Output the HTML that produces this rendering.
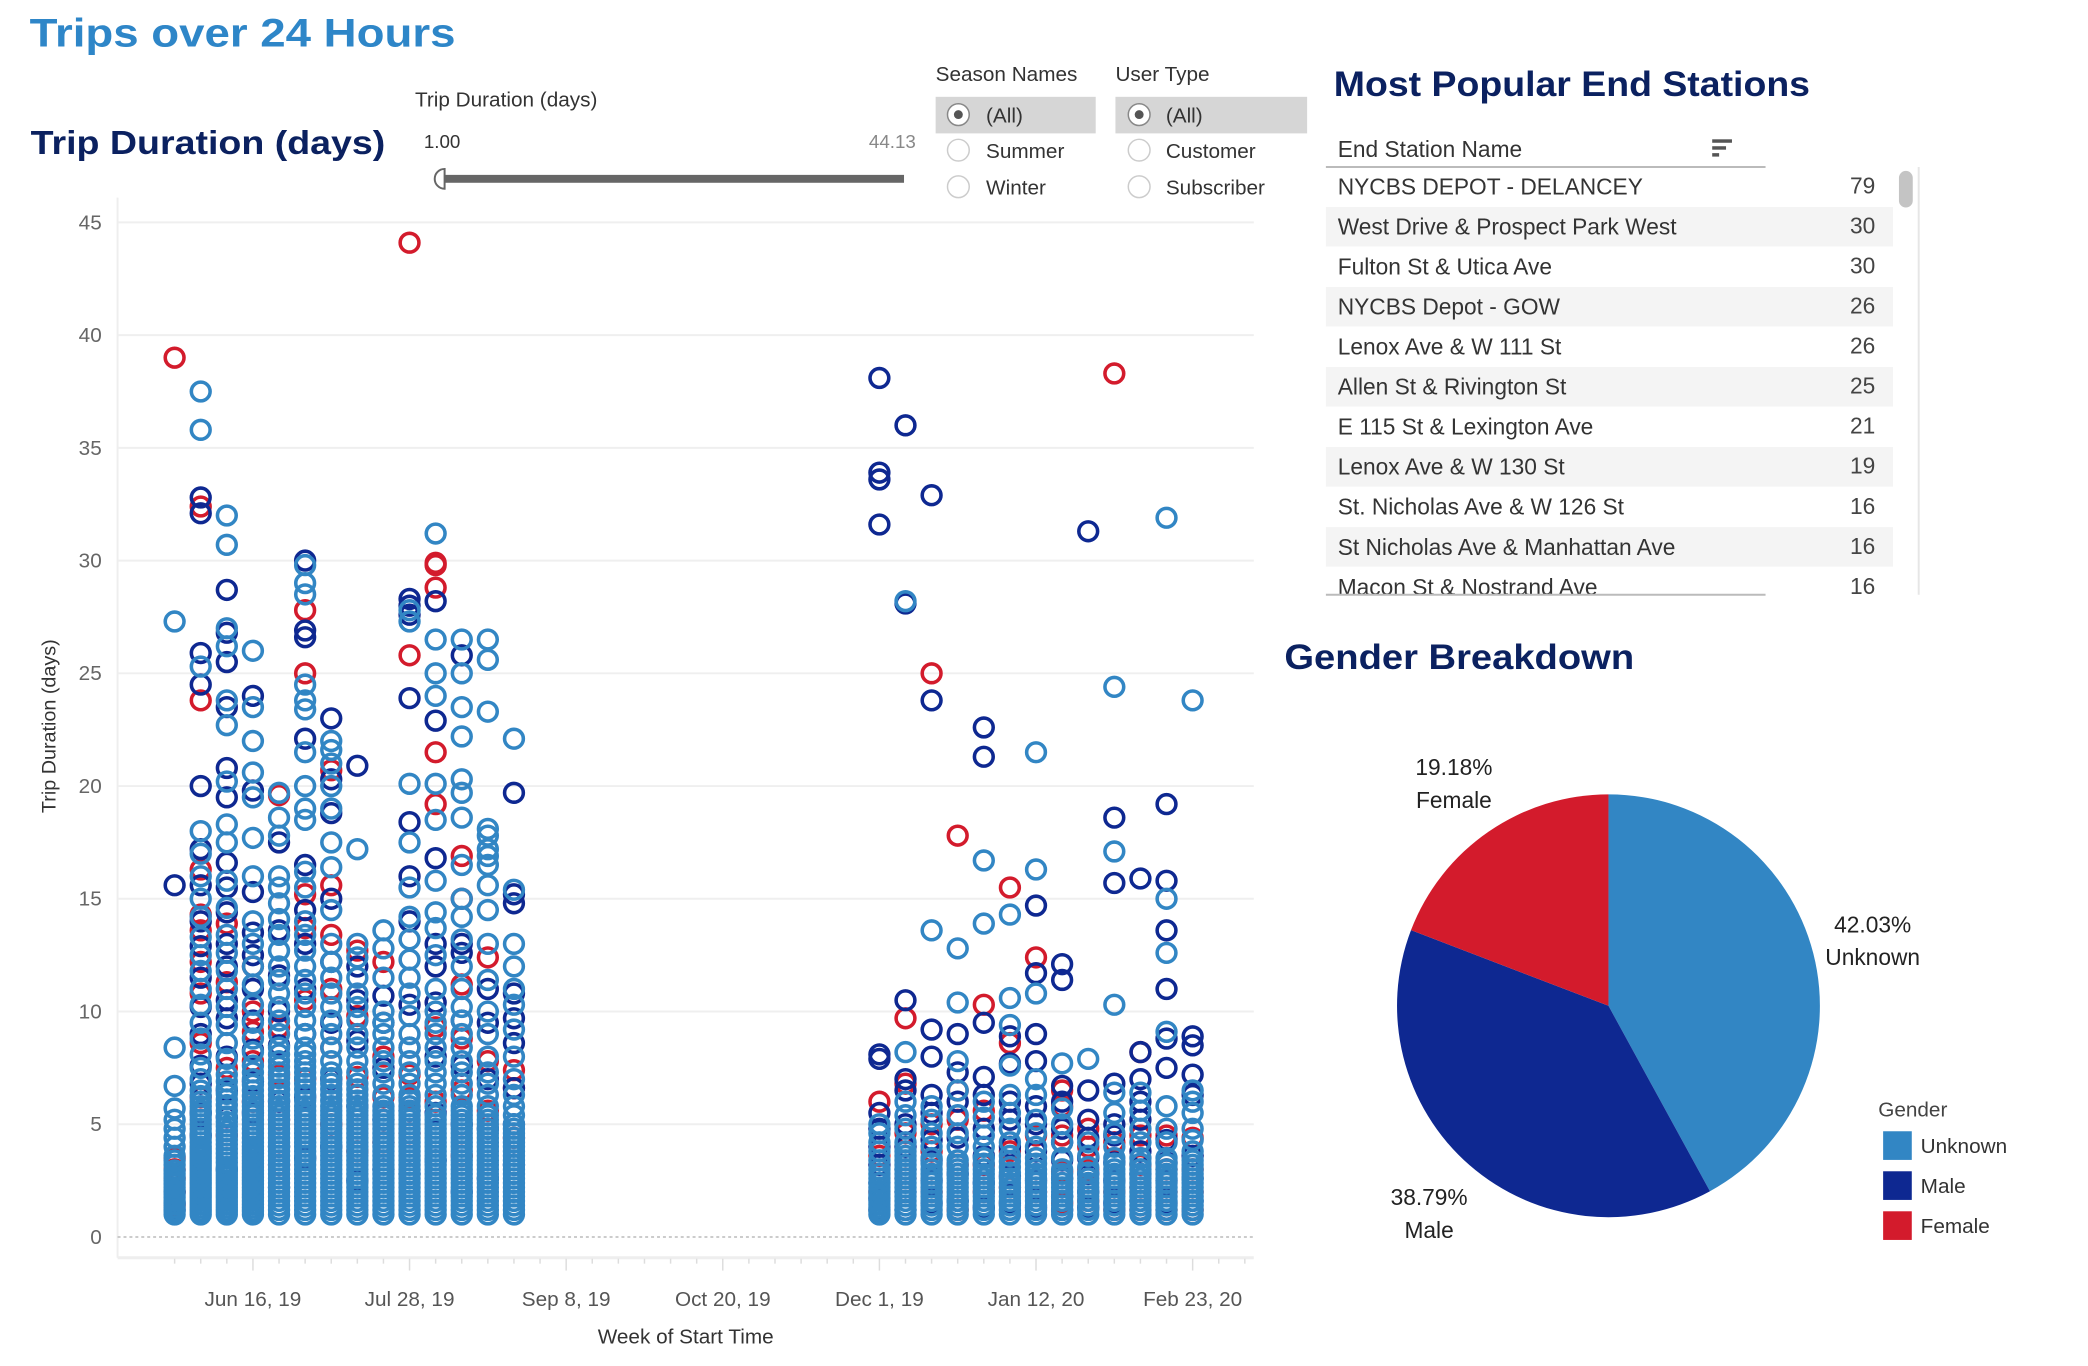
<!DOCTYPE html>
<html><head><meta charset="utf-8"><style>
html,body{margin:0;padding:0;background:#fff;}
svg{display:block;font-family:"Liberation Sans",sans-serif;}
</style></head><body>
<svg id="root" width="2088" height="1366" viewBox="0 0 2088 1366" xmlns="http://www.w3.org/2000/svg">
<g transform="scale(0.988)">
<text x="30" y="47" font-size="40" font-weight="bold" fill="#2e86c8" textLength="431" lengthAdjust="spacingAndGlyphs">Trips over 24 Hours</text>
<text x="31" y="156" font-size="34" font-weight="bold" fill="#0b2160" textLength="359" lengthAdjust="spacingAndGlyphs">Trip Duration (days)</text>

<g>
<text x="420" y="108" font-size="21" fill="#333">Trip Duration (days)</text>
<text x="429" y="150" font-size="19" fill="#333">1.00</text>
<text x="927" y="150" font-size="19" fill="#888" text-anchor="end">44.13</text>
<rect x="448" y="177" width="467" height="8" fill="#666"/>
<path d="M450,171 a10,10 0 0,0 0,20 z" fill="#fff" stroke="#666" stroke-width="2"/>
</g>

<g>
<text x="947" y="82" font-size="21" fill="#333">Season Names</text>
<rect x="947" y="98" width="162" height="37" fill="#d6d6d6"/>
<circle cx="970" cy="116" r="11" fill="#fff" stroke="#888" stroke-width="1.5"/>
<circle cx="970" cy="116" r="4.5" fill="#555"/>
<text x="998" y="124" font-size="21" fill="#333">(All)</text>
<circle cx="970" cy="152" r="11" fill="#fff" stroke="#ccc" stroke-width="1.5"/>
<text x="998" y="160" font-size="21" fill="#333">Summer</text>
<circle cx="970" cy="189" r="11" fill="#fff" stroke="#ccc" stroke-width="1.5"/>
<text x="998" y="197" font-size="21" fill="#333">Winter</text>
</g>
<g>
<text x="1129" y="82" font-size="21" fill="#333">User Type</text>
<rect x="1129" y="98" width="194" height="37" fill="#d6d6d6"/>
<circle cx="1153" cy="116" r="11" fill="#fff" stroke="#888" stroke-width="1.5"/>
<circle cx="1153" cy="116" r="4.5" fill="#555"/>
<text x="1180" y="124" font-size="21" fill="#333">(All)</text>
<circle cx="1153" cy="152" r="11" fill="#fff" stroke="#ccc" stroke-width="1.5"/>
<text x="1180" y="160" font-size="21" fill="#333">Customer</text>
<circle cx="1153" cy="189" r="11" fill="#fff" stroke="#ccc" stroke-width="1.5"/>
<text x="1180" y="197" font-size="21" fill="#333">Subscriber</text>
</g>

<g id="scatter"></g>

<g>
<text x="1350" y="97" font-size="36" font-weight="bold" fill="#0b2160" textLength="482" lengthAdjust="spacingAndGlyphs">Most Popular End Stations</text>
<text x="1354" y="159" font-size="23" fill="#333">End Station Name</text>
<g>
<rect x="1733" y="141" width="20" height="3.5" fill="#555"/>
<rect x="1733" y="148" width="14" height="3.5" fill="#555"/>
<rect x="1733" y="155" width="7" height="3.5" fill="#555"/>
</g>
<line x1="1342" y1="169" x2="1787" y2="169" stroke="#bbb" stroke-width="2"/>
<g id="rows"></g>
<line x1="1342" y1="602" x2="1787" y2="602" stroke="#bbb" stroke-width="2"/>
<line x1="1942" y1="169" x2="1942" y2="602" stroke="#e6e6e6" stroke-width="2"/>
<rect x="1922" y="173" width="14" height="37" rx="7" fill="#c4c4c4"/>
</g>

<g id="pie">
<text x="1300" y="677" font-size="36" font-weight="bold" fill="#0b2160" textLength="354" lengthAdjust="spacingAndGlyphs">Gender Breakdown</text>
</g>
</g>
</svg>
<script>
// ---------- Scatter data ----------
const weekDates = ["2019-05-26","2019-06-02","2019-06-09","2019-06-16","2019-06-23","2019-06-30","2019-07-07","2019-07-14","2019-07-21","2019-07-28","2019-08-04","2019-08-11","2019-08-18","2019-08-25",
"2019-12-01","2019-12-08","2019-12-15","2019-12-22","2019-12-29","2020-01-05","2020-01-12","2020-01-19","2020-01-26","2020-02-02","2020-02-09","2020-02-16","2020-02-23"];
const unknownVals = [
[1.0,1.3,1.6,1.9,2.2,2.5,2.8,3.2,3.6,4.0,4.4,4.8,5.2,5.7,6.7,8.4,27.3],
[1.0,1.3,1.6,1.9,2.2,2.5,2.8,3.1,3.4,3.7,4.0,4.4,4.8,5.2,5.6,6.0,6.5,7.0,7.5,8.1,8.8,9.5,10.3,11.0,11.8,12.5,13.3,14.2,15.0,16.0,17.0,18.0,25.3,35.8,37.5],
[1.0,1.3,1.6,1.9,2.2,2.5,2.8,3.1,3.5,3.9,4.3,4.7,5.1,5.6,6.1,6.6,7.2,7.9,8.6,9.4,10.2,11.0,11.8,12.6,13.4,14.6,15.8,17.5,18.3,20.2,22.7,23.8,26.2,27.0,30.7,32.0],
[1.0,1.3,1.6,1.9,2.2,2.5,2.8,3.1,3.4,3.7,4.0,4.4,4.8,5.2,5.6,6.0,6.5,7.0,7.6,8.2,8.8,9.5,10.3,11.2,12.0,13.0,14.0,16.0,17.7,19.5,20.6,22.0,23.5,26.0],
[1.0,1.4,1.8,2.2,2.6,3.0,3.4,3.8,4.2,4.6,5.0,5.4,5.8,6.3,6.8,7.3,7.8,8.4,9.0,9.6,10.2,10.8,11.4,12.0,12.7,13.4,14.1,14.8,15.5,16.0,17.8,18.6,19.7],
[1.0,1.4,1.8,2.2,2.6,3.0,3.4,3.8,4.2,4.6,5.0,5.4,5.8,6.3,6.8,7.3,7.8,8.4,9.0,9.6,10.2,10.8,11.4,12.0,12.7,13.4,14.0,15.5,16.2,18.5,19.0,20.0,21.5,23.4,23.8,24.5,28.5,29.0,29.8],
[1.0,1.4,1.8,2.2,2.6,3.0,3.4,3.8,4.2,4.6,5.0,5.4,5.8,6.3,6.8,7.3,7.8,8.4,9.0,9.6,10.2,10.8,11.5,12.2,13.0,14.5,16.4,17.5,19.0,20.0,21.0,21.6,22.0],
[1.0,1.4,1.8,2.2,2.6,3.0,3.4,3.8,4.2,4.6,5.0,5.4,5.8,6.3,6.8,7.3,7.8,8.4,9.0,9.6,10.2,10.8,11.5,12.4,13.0,17.2],
[1.0,1.4,1.8,2.2,2.6,3.0,3.4,3.8,4.2,4.6,5.0,5.4,5.8,6.3,6.8,7.3,7.8,8.4,9.0,9.5,10.0,11.5,12.8,13.6],
[1.0,1.4,1.8,2.2,2.6,3.0,3.4,3.8,4.2,4.6,5.0,5.4,5.8,6.3,6.8,7.3,7.8,8.4,9.0,9.8,10.8,11.5,12.3,13.2,14.2,15.5,17.5,20.1,27.3,27.8],
[1.0,1.4,1.8,2.2,2.6,3.0,3.4,3.8,4.2,4.6,5.0,5.4,5.8,6.3,6.8,7.3,7.8,8.4,9.0,9.5,10.0,11.0,12.5,13.7,14.4,15.8,18.5,20.1,24.0,25.0,26.5,31.2],
[1.0,1.4,1.8,2.2,2.6,3.0,3.4,3.8,4.2,4.6,5.0,5.4,5.8,6.3,6.8,7.3,7.8,8.4,9.0,9.6,10.2,11.0,12.0,13.2,14.2,15.0,16.5,18.6,19.7,20.3,22.2,23.5,25.0,26.5],
[1.0,1.4,1.8,2.2,2.6,3.0,3.4,3.8,4.2,4.6,5.0,5.4,5.8,6.3,6.8,7.3,8.0,9.0,10.0,11.4,13.0,14.5,15.6,16.5,16.9,17.2,17.8,18.1,23.3,25.6,26.5],
[1.0,1.4,1.8,2.2,2.6,3.0,3.4,3.8,4.2,4.6,5.0,5.4,5.8,6.3,7.0,8.0,9.2,10.3,11.0,12.0,13.0,15.4,22.1],
[1.0,1.3,1.6,1.9,2.2,2.6,3.0,3.4,3.8,4.2,4.6,5.0],
[1.0,1.4,1.8,2.2,2.6,3.0,3.4,3.8,4.2,4.8,5.4,6.0,8.2,28.2],
[1.0,1.4,1.8,2.2,2.6,3.0,3.5,4.0,4.6,5.2,5.8,13.6],
[1.0,1.4,1.8,2.2,2.6,3.0,3.4,4.0,4.6,5.4,6.5,7.8,10.4,12.8],
[1.0,1.4,1.8,2.2,2.6,3.0,3.5,4.0,4.5,5.3,6.0,13.9,16.7],
[1.0,1.4,1.8,2.2,2.6,3.1,3.6,4.2,4.8,5.5,6.3,7.6,9.4,10.6,14.3],
[1.0,1.4,1.8,2.2,2.6,3.0,3.5,4.0,4.6,5.2,6.3,7.0,10.8,16.3,21.5],
[1.0,1.4,1.8,2.2,2.6,3.0,3.5,4.2,5.0,5.7,7.7],
[1.0,1.4,1.8,2.2,2.6,3.1,3.6,4.2,7.9],
[1.0,1.4,1.8,2.2,2.6,3.0,3.5,4.0,4.6,5.5,6.4,10.3,17.1,24.4],
[1.0,1.4,1.8,2.2,2.6,3.0,3.5,4.2,4.8,5.6,6.4],
[1.0,1.4,1.8,2.2,2.6,3.0,3.5,4.2,4.8,5.8,9.1,12.6,15.0,31.9],
[1.0,1.4,1.8,2.2,2.6,3.0,3.4,3.8,4.3,4.8,5.5,6.0,6.5,23.8]
];
const unknownDenseVals = [
[1.15,1.45,1.75,2.05,2.35,2.65,2.95,3.4],
[1.15,1.45,1.75,2.05,2.35,2.65,2.95,3.25,3.55,3.85,4.2,4.6,5.0,5.4,5.8,6.25],
[1.15,1.45,1.75,2.05,2.35,2.65,2.95,3.3,3.7,4.1,4.5,4.9,5.35,5.85,6.35,6.9],
[1.15,1.45,1.75,2.05,2.35,2.65,2.95,3.25,3.55,3.85,4.2,4.6,5.0,5.4,5.8,6.25,6.75,7.3],
[1.2,1.6,2.0,2.4,2.8,3.2,3.6,4.0,4.4,4.8,5.2,5.6,6.05,6.55,7.05,7.55,8.1],
[1.2,1.6,2.0,2.4,2.8,3.2,3.6,4.0,4.4,4.8,5.2,5.6,6.05,6.55,7.05,7.55,8.1],
[1.2,1.6,2.0,2.4,2.8,3.2,3.6,4.0,4.4,4.8,5.2,5.6,6.05,6.55,7.05],
[1.2,1.6,2.0,2.4,2.8,3.2,3.6,4.0,4.4,4.8,5.2,5.6,6.05,6.55],
[1.2,1.6,2.0,2.4,2.8,3.2,3.6,4.0,4.4,4.8,5.2,5.6],
[1.2,1.6,2.0,2.4,2.8,3.2,3.6,4.0,4.4,4.8,5.2,5.6,6.05],
[1.2,1.6,2.0,2.4,2.8,3.2,3.6,4.0,4.4,4.8,5.2],
[1.2,1.6,2.0,2.4,2.8,3.2,3.6,4.0,4.4,4.8,5.2,5.6],
[1.2,1.6,2.0,2.4,2.8,3.2,3.6,4.0,4.4,4.8,5.2],
[1.2,1.6,2.0,2.4,2.8,3.2,3.6,4.0,4.4,4.8],
[1.15,1.45,1.75,2.05,2.4,2.8],
[1.2,1.6,2.0,2.4,2.8,3.2,3.6],
[1.2,1.6,2.0,2.4,2.8,3.25],
[1.2,1.6,2.0,2.4,2.8,3.2],
[1.2,1.6,2.0,2.4,2.8,3.25],
[1.2,1.6,2.0,2.4,2.85,3.35],
[1.2,1.6,2.0,2.4,2.8,3.25],
[1.2,1.6,2.0,2.4,2.8],
[1.2,1.6,2.0,2.4,2.85],
[1.2,1.6,2.0,2.4,2.8,3.25],
[1.2,1.6,2.0,2.4,2.8,3.25],
[1.2,1.6,2.0,2.4,2.8,3.25],
[1.2,1.6,2.0,2.4,2.8,3.2]
];
const maleVals = [
[1.2,1.5,2.0,15.6],
[4.5,5.5,6.8,7.6,9.0,10.2,11.5,12.9,14.0,15.6,17.2,20.0,24.5,25.9,32.1,32.8],
[3.0,5.3,6.5,8.0,9.7,10.5,12.0,13.0,14.4,15.5,16.6,19.5,20.8,23.5,25.5,26.8,28.7],
[5.5,6.9,8.3,9.6,11.0,12.5,13.5,15.3,19.8,24.0],
[2.2,4.0,6.0,8.5,10.0,11.6,13.6,17.5],
[3.5,6.2,9.0,11.0,13.0,14.5,16.5,22.1,26.6,26.9,30.0],
[4.0,7.0,9.5,12.2,15.0,18.8,20.3,23.0],
[2.5,5.8,8.7,10.5,12.0,20.9],
[3.0,5.2,7.5,9.5,10.7],
[2.8,5.6,8.4,10.3,14.0,16.0,18.4,23.9,27.6,28.0,28.3],
[3.4,5.5,8.0,10.4,12.0,13.0,16.8,22.9,28.2],
[2.0,5.0,7.6,9.6,12.6,13.0,25.8],
[2.6,4.8,7.0,9.5,11.0],
[3.2,5.0,6.6,8.6,9.7,10.8,14.8,15.2,19.7],
[1.2,1.7,2.4,3.2,4.0,4.8,5.5,7.9,8.1,31.6,33.6,33.9,38.1],
[1.2,2.0,3.0,4.0,5.0,6.5,7.0,10.5,28.1,36.0],
[1.5,2.5,3.4,4.3,5.5,6.3,8.0,9.2,23.8,32.9],
[1.6,2.8,4.4,6.0,7.3,9.0],
[1.3,2.4,3.6,4.8,6.3,7.1,9.5,21.3,22.6],
[1.5,2.7,4.0,5.2,6.0,7.7,8.9],
[1.3,2.5,3.8,5.0,5.8,7.8,9.0,11.7,14.7],
[1.2,1.8,2.6,3.4,4.2,4.8,6.0,6.7,11.4,12.1],
[1.3,2.0,2.8,3.5,4.4,5.2,6.5,31.3],
[1.5,2.5,3.3,4.5,5.0,6.8,15.7,18.6],
[1.6,2.8,3.8,5.2,6.0,7.0,8.2,15.9],
[1.5,2.5,3.3,4.3,7.5,8.8,11.0,13.6,15.8,19.2],
[1.6,2.6,3.6,6.3,7.2,8.5,8.9]
];
const femaleVals = [
[1.4,2.0,2.6,3.0,3.5,39.0],
[6.2,8.6,10.8,12.2,13.6,14.3,16.3,23.8,32.4],
[4.5,7.5,11.3,13.9],
[6.0,7.8,9.1,10.0,12.0],
[3.2,5.2,7.2,9.3,19.6],
[7.0,10.5,13.7,15.2,25.0,27.8],
[5.0,8.4,11.0,13.4,15.6,20.7],
[3.8,7.1,9.8,12.7],
[4.2,6.2,8.0,12.2],
[4.6,6.2,7.2,25.8,44.1],
[6.0,9.3,19.2,21.5,28.8,29.8,29.9],
[3.6,6.5,8.8,11.2,15.0,16.9],
[5.6,7.8,12.4],
[4.4,6.6,7.4],
[2.0,3.6,6.0],
[2.6,4.6,6.8,9.7],
[2.0,3.8,5.0,25.0],
[1.2,3.2,5.2,6.5,17.8],
[2.0,3.2,5.6,10.3],
[2.2,3.8,8.6,15.5],
[2.0,4.5,12.4],
[1.5,2.9,4.5,5.8,6.5],
[1.6,3.0,4.0,4.8],
[1.2,2.0,4.2,38.3],
[1.2,2.2,3.2,4.5,8.2],
[1.2,2.0,3.0,4.5],
[1.2,2.0,3.0,4.4]
];
const yTicks = [0,5,10,15,20,25,30,35,40,45];
const xTickDates = ["2019-06-16","2019-07-28","2019-09-08","2019-10-20","2019-12-01","2020-01-12","2020-02-23"];
const xTickLabels = ["Jun 16, 19","Jul 28, 19","Sep 8, 19","Oct 20, 19","Dec 1, 19","Jan 12, 20","Feb 23, 20"];

// ---------- Table data ----------
const stationNames = ["NYCBS DEPOT - DELANCEY","West Drive & Prospect Park West","Fulton St & Utica Ave","NYCBS Depot - GOW","Lenox Ave & W 111 St","Allen St & Rivington St","E 115 St & Lexington Ave","Lenox Ave & W 130 St","St. Nicholas Ave & W 126 St","St Nicholas Ave & Manhattan Ave","Macon St & Nostrand Ave"];
const stationCounts = [79,30,30,26,26,25,21,19,16,16,16];

// ---------- Pie data ----------
const genderNames = ["Unknown","Male","Female"];
const genderShares = [42.03,38.79,19.18];

const NS = "http://www.w3.org/2000/svg";
const COLORS = {Unknown:"#3286c4", Male:"#0e2891", Female:"#d31b2c"};
function mk(tag, attrs, parent){ const e=document.createElementNS(NS,tag); for(const k in attrs) e.setAttribute(k,attrs[k]); parent.appendChild(e); return e; }

const REF = Date.parse("2019-06-16T00:00:00Z");
const X0 = 256, PX_PER_DAY = 26.42/7;
function xScale(d){ return X0 + (Date.parse(d+"T00:00:00Z")-REF)/86400000*PX_PER_DAY; }
const Y0 = 1252, PX_PER_UNIT = 22.82;
function yScale(v){ return Y0 - v*PX_PER_UNIT; }

const sc = document.getElementById("scatter");
let fr = mk("line",{x1:119,y1:200,x2:119,y2:1273,stroke:"#eee","stroke-width":2},sc);


let fb = mk("line",{x1:119,y1:1273,x2:1269,y2:1273,stroke:"#eee","stroke-width":3},sc);


yTicks.forEach(v=>{
  const y=yScale(v);
  const g = mk("line",{x1:119,y1:y,x2:1269,y2:y,stroke:v===0?"#bbb":"#efefef","stroke-width":v===0?1.5:2,"stroke-dasharray":v===0?"3,3":"none"},sc);
  
  
  const t = mk("text",{x:103,y:y+7,"font-size":21,fill:"#666","text-anchor":"end"},sc);
  t.textContent=v;
  
  
});
for(let i=-3;i<=40;i++){
  const x = X0 + i*7*PX_PER_DAY;
  if(x<120||x>1268) continue;
  const major = (i%6===0);
  const tk = mk("line",{x1:x,y1:1274,x2:x,y2:major?1286:1279,stroke:"#ddd","stroke-width":1.5},sc);
  
  
}
xTickDates.forEach((d,i)=>{
  const t = mk("text",{x:xScale(d),y:1322,"font-size":21,fill:"#555","text-anchor":"middle"},sc);
  t.textContent = xTickLabels[i];
  
  
});
let xt = mk("text",{x:694,y:1360,"font-size":21,fill:"#333","text-anchor":"middle"},sc);
xt.textContent="Week of Start Time";


let yt = mk("text",{x:0,y:0,"font-size":20,fill:"#333","text-anchor":"middle",transform:"translate(56,735) rotate(-90)"},sc);
yt.textContent="Trip Duration (days)";



const series = [["Female",femaleVals],["Male",maleVals],["Unknown",unknownVals],["Unknown",unknownDenseVals]];
series.forEach(([name,vals])=>{
  const g = mk("g",{},sc);
  
  
  vals.forEach((arr,wi)=>{
    arr.forEach(v=>{
      const c = mk("circle",{cx:xScale(weekDates[wi]),cy:yScale(v),r:9.5,fill:"none",stroke:COLORS[name],"stroke-width":3.6},g);
      
      
    });
  });
});

const rows = document.getElementById("rows");
stationNames.forEach((n,i)=>{
  const cy = 189 + i*40.5;
  if(i%2===1){
    const bg = mk("rect",{x:1342,y:cy-20,width:574,height:40,fill:"#f4f4f4"},rows);
    
    
  }
  const t = mk("text",{x:1354,y:cy+8,"font-size":23,fill:"#333"},rows);
  t.textContent=n;
  
  
  const c = mk("text",{x:1898,y:cy+7,"font-size":23,fill:"#444","text-anchor":"end"},rows);
  c.textContent=stationCounts[i];
  
  
});

const pie = document.getElementById("pie");
const CX=1628, CY=1018, R=214;
let total = genderShares.reduce((a,b)=>a+b,0), acc=0;
genderShares.forEach((s,i)=>{
  const a0 = acc/total*2*Math.PI, a1=(acc+s)/total*2*Math.PI; acc+=s;
  const x0=CX+R*Math.sin(a0), y0=CY-R*Math.cos(a0), x1=CX+R*Math.sin(a1), y1=CY-R*Math.cos(a1);
  const large = (a1-a0)>Math.PI?1:0;
  const p = mk("path",{d:`M${CX},${CY} L${x0},${y0} A${R},${R} 0 ${large} 1 ${x1},${y1} Z`,fill:COLORS[genderNames[i]]},pie);
  
  
  const am=(a0+a1)/2, lr=R+62;
  let lx=CX+lr*Math.sin(am), ly=CY-lr*Math.cos(am);
  const t1 = mk("text",{x:lx,y:ly-6,"font-size":23,fill:"#222","text-anchor":"middle"},pie);
  t1.textContent = s.toFixed(2)+"%";
  
  
  const t2 = mk("text",{x:lx,y:ly+27,"font-size":23,fill:"#222","text-anchor":"middle"},pie);
  t2.textContent = genderNames[i];
  
  
});
const lg = mk("g",{},pie);


const lt = mk("text",{x:1901,y:1130,"font-size":21,fill:"#444"},lg);
lt.textContent="Gender";


genderNames.forEach((n,i)=>{
  const y=1159+i*40.5;
  const r = mk("rect",{x:1906,y:y-14,width:29,height:29,fill:COLORS[n]},lg);
  
  
  const t = mk("text",{x:1944,y:y+8,"font-size":21,fill:"#333"},lg);
  t.textContent=n;
  
  
});
</script>
</body></html>
